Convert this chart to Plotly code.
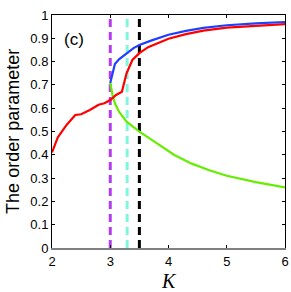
import plotly.graph_objects as go

K_red = [2.0, 2.1, 2.25, 2.4, 2.5, 2.65, 2.8, 2.9, 3.0, 3.1, 3.2, 3.28, 3.38, 3.5, 3.65, 3.8, 4.0, 4.3, 4.6, 5.0, 5.5, 6.0]
r_red = [0.41, 0.475, 0.528, 0.571, 0.574, 0.592, 0.615, 0.621, 0.635, 0.657, 0.671, 0.75, 0.807, 0.836, 0.862, 0.878, 0.898, 0.918, 0.933, 0.946, 0.955, 0.961]

K_blue = [3.0, 3.08, 3.15, 3.28, 3.4, 3.5, 3.7, 4.0, 4.3, 4.6, 5.0, 5.5, 6.0]
r_blue = [0.708, 0.79, 0.81, 0.836, 0.858, 0.871, 0.89, 0.915, 0.932, 0.945, 0.956, 0.964, 0.970]

K_green = [3.0, 3.04, 3.08, 3.15, 3.28, 3.5, 3.7, 3.9, 4.1, 4.4, 4.7, 5.0, 5.5, 6.0]
r_green = [0.71, 0.655, 0.621, 0.585, 0.542, 0.499, 0.466, 0.432, 0.399, 0.362, 0.334, 0.31, 0.283, 0.26]

K_crit = [3.0, 3.29, 3.5]
crit_colors = ["#b23cf0", "#7ff7e0", "#000000"]

y_ticks = [0, 0.1, 0.2, 0.3, 0.4, 0.5, 0.6, 0.7, 0.8, 0.9, 1]
y_ticklabels = ["0", "0.1", "0.2", "0.3", "0.4", "0.5", "0.6", "0.7", "0.8", "0.9", "1"]
x_ticks = [2, 3, 4, 5, 6]

SANS = "Liberation Sans, Arial"

fig = go.Figure()
for k, c in zip(K_crit, crit_colors):
    fig.add_trace(go.Scatter(x=[k, k], y=[0, 1], mode="lines",
                             line=dict(color=c, width=3, dash="8px,5px"),
                             showlegend=False, hoverinfo="skip"))
fig.add_trace(go.Scatter(x=K_green, y=r_green, mode="lines", line=dict(color="#66ee00", width=2.2), showlegend=False))
fig.add_trace(go.Scatter(x=K_red, y=r_red, mode="lines", line=dict(color="#ff0000", width=2.2), showlegend=False))
fig.add_trace(go.Scatter(x=K_blue, y=r_blue, mode="lines", line=dict(color="#1f3fff", width=2.2), showlegend=False))
# invisible trace for the top frame axis
fig.add_trace(go.Scatter(x=[2, 6], y=[0, 0], xaxis="x2", mode="lines", line=dict(width=0), opacity=0,
                         showlegend=False, hoverinfo="skip"))

fig.add_annotation(x=2.38, y=0.893, text="(c)", showarrow=False,
                   font=dict(family=SANS, size=17, color="#000"))
fig.add_annotation(xref="paper", yref="paper", x=0.5, y=-0.14, yanchor="middle", text="K", showarrow=False,
                   font=dict(family="Liberation Serif, Times New Roman", size=20, color="#000", style="italic"))
fig.add_annotation(xref="paper", yref="paper", x=-0.17, xanchor="center", y=0.5, textangle=-90,
                   text="The order parameter", showarrow=False,
                   font=dict(family=SANS, size=18, color="#000"))

fig.update_layout(
    width=291, height=292,
    margin=dict(l=52, r=6, t=15, b=44),
    paper_bgcolor="white", plot_bgcolor="white",
    xaxis=dict(range=[2, 6], tickvals=x_ticks, ticktext=[str(v) for v in x_ticks], automargin=False,
               ticks="inside", ticklen=3, tickcolor="#000", showgrid=False, zeroline=False,
               showline=True, linecolor="#808080", linewidth=2,
               tickfont=dict(family=SANS, size=13, color="#000")),
    xaxis2=dict(range=[2, 6], overlaying="x", side="top", tickvals=x_ticks, showticklabels=False, automargin=False,
                ticks="inside", ticklen=3, tickcolor="#000", showgrid=False, zeroline=False,
                showline=True, linecolor="#000", linewidth=1),
    yaxis=dict(range=[0, 1], tickvals=y_ticks, ticktext=y_ticklabels, automargin=False,
               ticks="inside", ticklen=3, tickcolor="#000", showgrid=False, zeroline=False,
               showline=True, linecolor="#000", linewidth=1, mirror="ticks",
               tickfont=dict(family=SANS, size=13, color="#000")),
)

fig.write_html("out.html", config={"displayModeBar": False},
               post_script="document.body.style.margin='0';document.body.style.overflow='hidden';")
